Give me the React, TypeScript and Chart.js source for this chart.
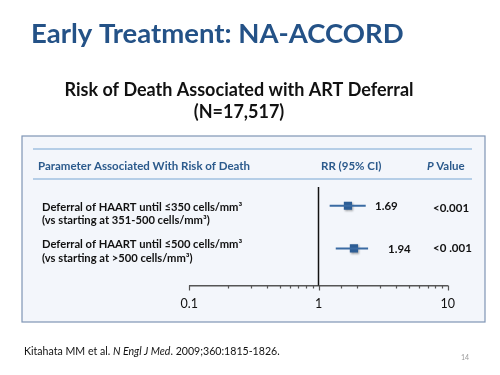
import React, { useEffect, useRef } from "react";
import { Chart, registerables } from "chart.js";

Chart.register(...registerables);

// ---- Data ----
const rowLabelsLine1 = [
  "Deferral of HAART until ≤350 cells/mm³",
  "Deferral of HAART until ≤500 cells/mm³",
];
const rowLabelsLine2 = [
  "(vs starting at 351-500 cells/mm³)",
  "(vs starting at >500 cells/mm³)",
];
const rowIndex = [1, 2];
const rrPoint = [1.69, 1.88];
const ciLow = [1.22, 1.36];
const ciHigh = [2.32, 2.42];
const rrLabels = ["1.69", "1.94"];
const pLabels = ["<0.001", "<0 .001"];
const axisMin = 0.1;
const axisMax = 10;
const majorTicks = [0.1, 1, 10];

const titleText = "Early Treatment: NA-ACCORD";
const subtitleLines = ["Risk of Death Associated with ART Deferral", "(N=17,517)"];
const headerParam = "Parameter Associated With Risk of Death";
const headerRR = "RR (95% CI)";
const citationParts = [
  { t: "Kitahata MM et al. ", i: false },
  { t: "N Engl J Med", i: true },
  { t: ". 2009;360:1815-1826.", i: false },
];
const pageNumber = "14";

const FONT = "Lato, 'Open Sans', sans-serif";
const BLUE_TEXT = "#2b5a8c";
const MARK = "#2c5d95";

const isMajor = (v: number) => {
  const l = Math.log10(v);
  return Math.abs(l - Math.round(l)) < 1e-9;
};

const decorPlugin = {
  id: "decor",
  beforeDraw(chart: any) {
    const ctx = chart.ctx;
    ctx.save();
    ctx.fillStyle = "#ffffff";
    ctx.fillRect(0, 0, chart.width, chart.height);
    // Slide title
    ctx.fillStyle = "#245287";
    ctx.font = `bold 27.5px ${FONT}`;
    ctx.textBaseline = "middle";
    ctx.textAlign = "left";
    ctx.fillText(titleText, 31, 34);
    // Subtitle
    ctx.fillStyle = "#111111";
    ctx.font = `bold 18px ${FONT}`;
    ctx.textAlign = "center";
    ctx.fillText(subtitleLines[0], 239, 90);
    ctx.fillText(subtitleLines[1], 239, 112);
    // Box
    ctx.fillStyle = "#f3f6fb";
    ctx.fillRect(22, 136, 463, 186);
    ctx.strokeStyle = "#7f95b5";
    ctx.lineWidth = 1.2;
    ctx.strokeRect(22, 136, 463, 186);
    // Header lines
    ctx.strokeStyle = "#78a6d4";
    ctx.lineWidth = 1.2;
    ctx.beginPath();
    ctx.moveTo(33, 149);
    ctx.lineTo(472, 149);
    ctx.moveTo(33, 179);
    ctx.lineTo(472, 179);
    ctx.stroke();
    // Header text
    ctx.fillStyle = BLUE_TEXT;
    ctx.font = `bold 11.5px ${FONT}`;
    ctx.textAlign = "left";
    ctx.fillText(headerParam, 38, 166);
    ctx.fillText(headerRR, 321, 166);
    ctx.font = `italic bold 11.5px ${FONT}`;
    ctx.fillText("P", 427, 166);
    const pw = ctx.measureText("P ").width;
    ctx.font = `bold 11.5px ${FONT}`;
    ctx.fillText("Value", 427 + pw, 166);
    // Row labels
    ctx.fillStyle = "#111111";
    ctx.font = `bold 11.2px ${FONT}`;
    const line1Y = [207, 244];
    const line2Y = [220, 258];
    rowLabelsLine1.forEach((t, i) => ctx.fillText(t, 42, line1Y[i]));
    rowLabelsLine2.forEach((t, i) => ctx.fillText(t, 42, line2Y[i]));
    // Citation
    let cx = 24;
    citationParts.forEach((p) => {
      ctx.font = `${p.i ? "italic " : ""}10.6px ${FONT}`;
      ctx.fillText(p.t, cx, 352);
      cx += ctx.measureText(p.t).width;
    });
    ctx.fillStyle = "#9a9a9a";
    ctx.font = `7px ${FONT}`;
    ctx.fillText(pageNumber, 461, 358);
    ctx.restore();
  },
  beforeDatasetsDraw(chart: any) {
    const ctx = chart.ctx;
    const xs = chart.scales.x;
    const area = chart.chartArea;
    ctx.save();
    const x1 = xs.getPixelForValue(1);
    ctx.strokeStyle = "#111111";
    ctx.lineWidth = 1.5;
    ctx.beginPath();
    ctx.moveTo(x1, area.top);
    ctx.lineTo(x1, area.bottom);
    ctx.stroke();
    ctx.restore();
  },
  beforeDatasetDraw(chart: any, args: any) {
    if (args.meta.type === "scatter") {
      const ctx = chart.ctx;
      ctx.save();
      ctx.shadowColor = "rgba(0,0,0,0.35)";
      ctx.shadowBlur = 2;
      ctx.shadowOffsetX = 1;
      ctx.shadowOffsetY = 1;
    }
  },
  afterDatasetDraw(chart: any, args: any) {
    if (args.meta.type === "scatter") chart.ctx.restore();
  },
  afterDraw(chart: any) {
    const ctx = chart.ctx;
    const xs = chart.scales.x;
    const ys = chart.scales.y;
    const area = chart.chartArea;
    ctx.save();
    ctx.strokeStyle = "#555555";
    ctx.lineWidth = 1.2;
    ctx.beginPath();
    xs.ticks.forEach((t: any) => {
      const px = Math.round(xs.getPixelForValue(t.value)) + 0.5;
      const len = isMajor(t.value) ? 5 : 3;
      ctx.moveTo(px, area.bottom);
      ctx.lineTo(px, area.bottom + len);
    });
    ctx.stroke();
    ctx.fillStyle = "#111111";
    ctx.font = `bold 11.5px ${FONT}`;
    ctx.textBaseline = "middle";
    ctx.textAlign = "left";
    const rrX = [375, 388];
    rowIndex.forEach((r, i) => {
      const py = ys.getPixelForValue(r);
      ctx.fillText(rrLabels[i], rrX[i], py + 1);
      ctx.fillText(pLabels[i], 433, py + (i === 0 ? 3 : 0));
    });
    ctx.restore();
  },
};

export default function App() {
  const ref = useRef<HTMLCanvasElement | null>(null);
  useEffect(() => {
    if (!ref.current) return;
    const ciDatasets = rowIndex.map((r, i) => ({
      type: "line" as const,
      data: [
        { x: ciLow[i], y: r },
        { x: ciHigh[i], y: r },
      ],
      borderColor: "#3a6ba3",
      borderWidth: 2,
      pointRadius: 0,
      fill: false,
    }));
    const chart = new Chart(ref.current, {
      type: "scatter",
      data: {
        datasets: [
          ...ciDatasets,
          {
            type: "scatter" as const,
            data: rowIndex.map((r, i) => ({ x: rrPoint[i], y: r })),
            pointStyle: "rect",
            pointRadius: 5.8,
            backgroundColor: MARK,
            borderColor: MARK,
            borderWidth: 0,
          },
        ] as any,
      },
      options: {
        animation: false,
        responsive: true,
        maintainAspectRatio: false,
        layout: { padding: { left: 189.3, right: 52.3, top: 187, bottom: 49.5 } },
        plugins: { legend: { display: false }, tooltip: { enabled: false }, title: { display: false } },
        scales: {
          x: {
            type: "logarithmic",
            min: axisMin,
            max: axisMax,
            grid: { display: false, drawTicks: false },
            border: { display: true, color: "#555555", width: 1.5 },
            afterFit: (s: any) => {
              s.height = 40;
            },
            afterBuildTicks: (s: any) => {
              s.ticks = s.ticks.filter((t: any) => t.value >= axisMin - 1e-9 && t.value <= axisMax + 1e-9);
            },
            ticks: {
              autoSkip: false,
              maxRotation: 0,
              padding: 11,
              color: "#111111",
              font: { family: FONT, size: 12.5 },
              callback: (v: any) => (majorTicks.some((m) => Math.abs(m - v) < 1e-9) ? String(v) : ""),
            },
          },
          y: {
            type: "linear",
            display: false,
            reverse: true,
            min: 0.56,
            max: 2.87,
          },
        },
      } as any,
      plugins: [decorPlugin],
    });
    return () => chart.destroy();
  }, []);
  return (
    <div style={{ position: "fixed", left: 0, top: 0, width: 500, height: 375, background: "#fff" }}>
      <canvas ref={ref} />
    </div>
  );
}
